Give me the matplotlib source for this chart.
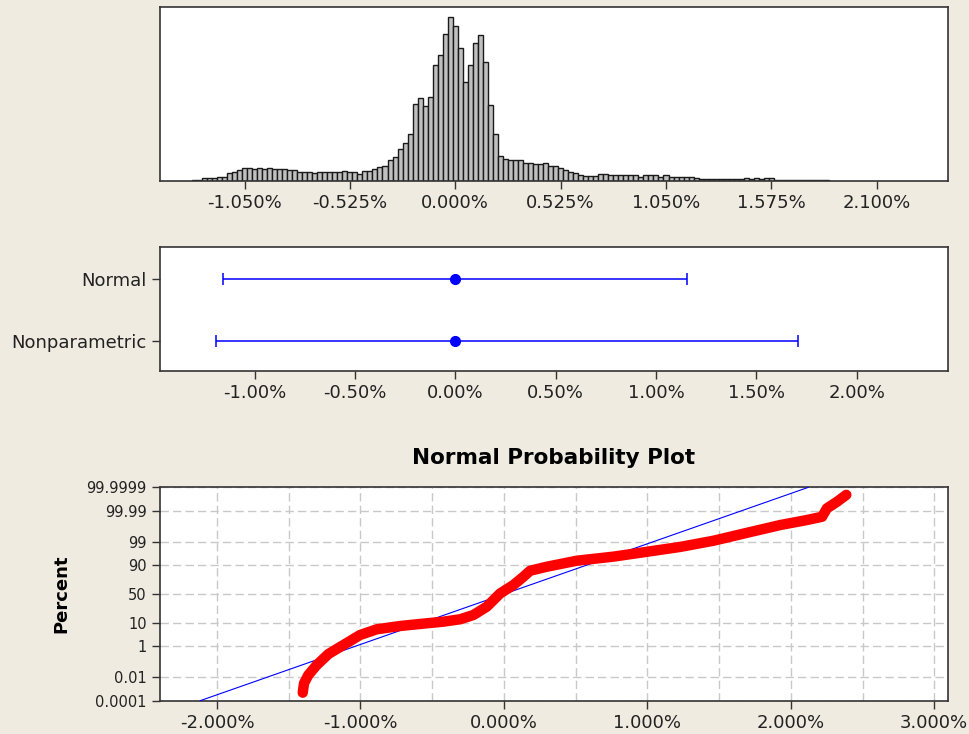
import matplotlib
matplotlib.use('Agg')
import matplotlib.pyplot as plt
import numpy as np
from statistics import NormalDist

# histogram of returns (%), bins of 0.025% starting at -1.300%
bin_first = -1.300
bin_width = 0.025
freq = [1.3, 1.3, 2.7, 2.7, 2.7, 4.3, 4.3, 7.7, 9.3, 11, 13.3, 13.3, 12.3, 13.3, 12.3, 13.3,
        11.7, 12, 12, 11, 11, 9, 9, 9, 8.3, 8.7, 8.7, 8.7, 8.7, 8.7, 10.3, 9, 9, 7.3, 10.3, 10.3, 11.7,
        13.7, 15, 21, 24.3, 31.7, 37.7, 46.7, 76.7, 82.7, 75, 84.3, 116, 126, 147, 164.3,
        155, 133.3, 99.3, 116, 137.7, 146, 119.3, 76, 46.7, 25.3, 22,
        21, 21, 21, 18, 18, 16.7, 16.7, 18, 15.3, 15, 13.3, 11, 9, 7.7, 5.7, 5.3, 5.3, 5.3,
        7.3, 7.3, 6, 6, 6, 6, 6, 6, 4.3, 6, 6, 6, 4.3, 6, 4.3, 4.3, 4.3, 4.3, 4.3,
        3, 2, 2, 2, 2, 2, 2, 2, 2, 2, 3, 2, 3, 2, 3, 3,
        0.7, 0.7, 0.7, 0.7, 0.7, 0.7, 0.7, 0.7, 0.7, 0.7, 0.7]
hist_ticks = [-1.050, -0.525, 0.0, 0.525, 1.050, 1.575, 2.100]

# confidence intervals (%)
ci_names = ['Normal', 'Nonparametric']
ci_center = [0.0, 0.0]
ci_low = [-1.158, -1.194]
ci_high = [1.156, 1.709]
ci_ticks = [-1.0, -0.5, 0.0, 0.5, 1.0, 1.5, 2.0]

# normal probability plot: points
npp_x = [-1.402, -1.393, -1.363, -1.304, -1.223, -1.119, -1.002, -0.886, -0.723, -0.537,
         -0.421, -0.305, -0.212, -0.119, -0.026, 0.067, 0.137, 0.183, 0.300, 0.509,
         0.764, 0.997, 1.229, 1.462, 1.695, 1.927, 2.113, 2.218, 2.252, 2.322, 2.387]
npp_pct = [0.00055, 0.0035, 0.0154, 0.078, 0.376, 1.15, 3.4, 5.8, 7.7, 9.6,
           10.9, 13.0, 17.5, 28.6, 51.0, 65.6, 78.0, 85.0, 88.8, 93.1,
           95.2, 97.0, 98.2, 99.12, 99.68, 99.894, 99.951, 99.971, 99.9932, 99.998, 99.9995]
fit_mean = 0.003
fit_sd = 0.446
pct_ticks = [0.0001, 0.01, 1, 10, 50, 90, 99, 99.99, 99.9999]
pct_labels = ['0.0001', '0.01', '1', '10', '50', '90', '99', '99.99', '99.9999']
npp_xticks = [-2.0, -1.0, 0.0, 1.0, 2.0, 3.0]

bg = '#EFEBE1'
edge = '#333333'
nd = NormalDist()

plt.rcParams['font.family'] = ['DejaVu Sans']
fig = plt.figure(figsize=(9.7, 7.34), dpi=100, facecolor=bg)

def frame(ax):
    ax.set_facecolor('white')
    for s in ax.spines.values():
        s.set_color(edge)
        s.set_linewidth(1.2)
    ax.tick_params(direction='out', length=6, width=1, color=edge,
                   labelsize=13, labelcolor='#222222', top=False, right=False)

# top: histogram
ax1 = fig.add_axes([160/970, 1-181/734, 788/970, 174/734])
frame(ax1)
centers = bin_first + bin_width*np.arange(len(freq))
ax1.bar(centers, freq, width=bin_width, color='#C0C0C0', edgecolor='#1A1A1A', linewidth=1.0)
ax1.set_xlim(-1.471, 2.455)
ax1.set_ylim(0, 174)
ax1.set_yticks([])
ax1.set_xticks(hist_ticks)
ax1.set_xticklabels([f'{t:.3f}%' for t in hist_ticks])

# middle: confidence intervals
ax2 = fig.add_axes([160/970, 1-371/734, 788/970, 124/734])
frame(ax2)
ypos = [1, 0]
for i in range(len(ci_names)):
    ax2.errorbar(ci_center[i], ypos[i],
                 xerr=[[ci_center[i]-ci_low[i]], [ci_high[i]-ci_center[i]]],
                 fmt='o', color='#0000FF', markersize=7, elinewidth=1.1,
                 capsize=4, capthick=1.1)
ax2.set_xlim(-1.471, 2.455)
ax2.set_ylim(-0.49, 1.52)
ax2.set_yticks(ypos)
ax2.set_yticklabels(ci_names)
ax2.set_xticks(ci_ticks)
ax2.set_xticklabels([f'{t:.2f}%' for t in ci_ticks])

# bottom: normal probability plot
ax3 = fig.add_axes([160/970, 1-700.7/734, 788/970, 213.4/734])
frame(ax3)
z_lo = nd.inv_cdf(pct_ticks[0]/100)
z_hi = nd.inv_cdf(pct_ticks[-1]/100)
ax3.set_xlim(-2.397, 3.096)
ax3.set_ylim(z_lo, z_hi)
fit_x = [fit_mean + z_lo*fit_sd, fit_mean + z_hi*fit_sd]
ax3.plot(fit_x, [z_lo, z_hi], color='#0000FF', linewidth=0.8, zorder=3)
npp_z = [nd.inv_cdf(p/100) for p in npp_pct]
ax3.plot(npp_x, npp_z, color='#FF0000', linewidth=7.5, solid_capstyle='round',
         solid_joinstyle='round', zorder=4)
ax3.set_yticks([nd.inv_cdf(p/100) for p in pct_ticks])
ax3.set_yticklabels(pct_labels)
ax3.tick_params(axis='y', labelsize=10.5)
ax3.set_xticks(npp_xticks)
ax3.set_xticklabels([f'{t:.3f}%' for t in npp_xticks])
ax3.set_xticks(np.arange(-2.0, 3.01, 0.5), minor=True)
ax3.tick_params(which='minor', length=0)
ax3.grid(True, which='both', color='#C8C8C8', linestyle=(0, (6, 3)), linewidth=1)
ax3.set_axisbelow(True)
ax3.set_ylabel('Percent', fontsize=13, fontweight='bold', labelpad=12)
ax3.set_title('Normal Probability Plot', fontsize=15.5, fontweight='bold', pad=17)

fig.savefig('out.png', dpi=100, facecolor=bg)
